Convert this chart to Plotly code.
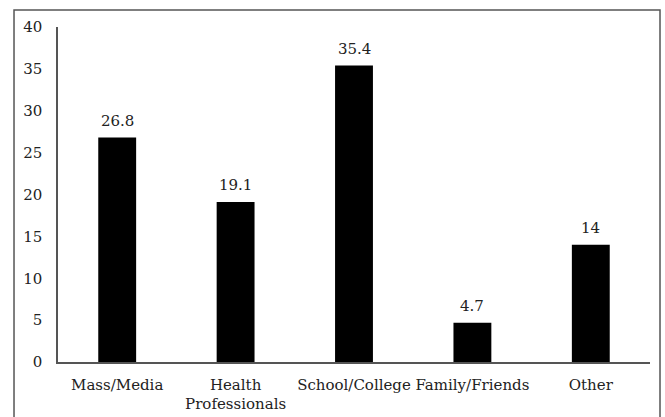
import plotly.graph_objects as go

categories = ["Mass/Media", "Health<br>Professionals", "School/College", "Family/Friends", "Other"]
values = [26.8, 19.1, 35.4, 4.7, 14]
y_ticks = [0, 5, 10, 15, 20, 25, 30, 35, 40]

FONT = "DejaVu Serif"
TEXT_COLOR = "#222"

fig = go.Figure(
    go.Bar(
        x=categories,
        y=values,
        marker=dict(color="black", line=dict(width=0)),
        width=0.32,
    )
)

# value labels sitting above each bar
annotations = [
    dict(
        x=c,
        y=v,
        xref="x",
        yref="y",
        text=f"{v:g}",
        showarrow=False,
        yanchor="bottom",
        yshift=6,
        font=dict(family=FONT, size=15, color=TEXT_COLOR),
    )
    for c, v in zip(categories, values)
]

fig.update_layout(
    width=665,
    height=417,
    margin=dict(l=58, r=15, t=27, b=55),
    paper_bgcolor="white",
    plot_bgcolor="white",
    font=dict(family=FONT, size=15, color=TEXT_COLOR),
    showlegend=False,
    annotations=annotations,
    xaxis=dict(
        showline=True,
        linecolor="#555",
        linewidth=1.5,
        ticks="",
        showgrid=False,
        automargin=False,
        ticklabelstandoff=8,
        tickfont=dict(family=FONT, size=15, color=TEXT_COLOR),
    ),
    yaxis=dict(
        range=[0, 40],
        tickvals=y_ticks,
        showline=True,
        linecolor="#555",
        linewidth=1.5,
        ticks="",
        showgrid=False,
        zeroline=False,
        automargin=False,
        ticklabelstandoff=11,
        tickfont=dict(family=FONT, size=15, color=TEXT_COLOR),
    ),
    shapes=[
        dict(
            type="rect",
            xref="paper",
            yref="paper",
            x0=-0.0743,
            x1=1.0169,
            y0=-0.3,
            y1=1.0507,
            line=dict(color="#555", width=1.5),
            fillcolor="rgba(0,0,0,0)",
            layer="below",
        )
    ],
)

fig.write_html("out.html")
